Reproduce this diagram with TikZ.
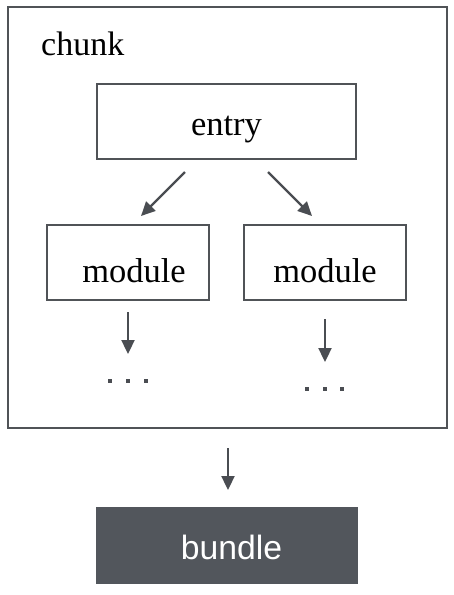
\documentclass[tikz,border=0pt]{standalone}
\usepackage{fontspec}
\setmainfont{Liberation Serif}
\newfontfamily\bsans{Liberation Sans}
\usetikzlibrary{arrows.meta}
\definecolor{edge}{HTML}{505357}
\definecolor{arr}{HTML}{4A4D52}
\definecolor{bfill}{HTML}{52565C}
\tikzset{
  box/.style={draw=edge, line width=2.6pt, fill=white, inner sep=0pt, font=\fontsize{34.5}{38}\selectfont},
  conn/.style={draw=arr, line width=2.3pt, -{Triangle[length=14pt,width=13pt]}},
  dotmark/.style={fill=arr, minimum size=3.4pt, inner sep=0pt, draw=none},
}
\begin{document}
\begin{tikzpicture}[x=1pt,y=-1pt]
\useasboundingbox (0,0) rectangle (454,595);
\node[box, minimum width=439pt, minimum height=421pt] (chunk) at (227.5,217.5) {};
\node[font=\fontsize{34}{38}\selectfont, anchor=base west, inner sep=0pt] (chunklabel) at (41,55) {chunk};
\node[box, minimum width=259pt, minimum height=75pt, text height=27pt, text depth=0pt] (entry) at (226.5,121.5) {entry};
\node[box, minimum width=162pt, minimum height=75pt, text height=39pt, text depth=0pt] (m1) at (128,262.5) {\hspace*{12pt}module};
\node[box, minimum width=162pt, minimum height=75pt, text height=39pt, text depth=0pt] (m2) at (325,262.5) {module};
\coordinate (a1s) at (185,172);
\coordinate (a1e) at (141,216);
\coordinate (a2s) at (268,172);
\coordinate (a2e) at (312,216);
\draw[conn] (a1s) -- (a1e);
\draw[conn] (a2s) -- (a2e);
\coordinate (d1s) at (128,312);
\coordinate (d1e) at (128,354);
\coordinate (d2s) at (325,319);
\coordinate (d2e) at (325,362);
\draw[conn] (d1s) -- (d1e);
\draw[conn] (d2s) -- (d2e);
\node[dotmark] (p1) at (110,381) {};
\node[dotmark] (p2) at (128,381) {};
\node[dotmark] (p3) at (146,381) {};
\node[dotmark] (q1) at (307,389) {};
\node[dotmark] (q2) at (325,389) {};
\node[dotmark] (q3) at (342,389) {};
\node[fill=bfill, draw=none, minimum width=262pt, minimum height=77pt, inner sep=0pt, text=white, text height=27pt, text depth=0pt, font=\bsans\fontsize{33.7}{38}\selectfont] (bundle) at (227,545.5) {\hspace*{9pt}bundle};
\coordinate (bs) at (228,448);
\coordinate (be) at (228,490);
\draw[conn] (bs) -- (be);
\end{tikzpicture}
\end{document}
